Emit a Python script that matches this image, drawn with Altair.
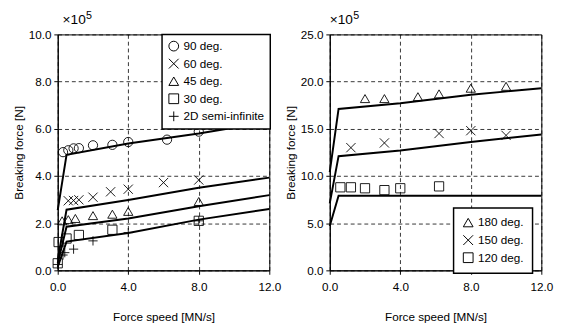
import altair as alt
import pandas as pd

FONT = "Liberation Sans"

# ---------------- left panel data ----------------
L_SERIES = ["90 deg.", "60 deg.", "45 deg.", " 30 deg.", "2D semi-infinite"]
L_SHAPES = ["circle", "M-1,-1L1,1M-1,1L1,-1", "triangle-up", "square", "M-1,0L1,0M0,-1L0,1"]

x90 = [0.3, 0.6, 0.9, 1.2, 2.0, 3.1, 4.0, 6.2, 8.0]
y90 = [5.01, 5.09, 5.17, 5.18, 5.30, 5.32, 5.44, 5.54, 5.88]
x60 = [0.6, 0.9, 1.2, 2.0, 3.0, 4.0, 6.0, 8.0]
y60 = [2.95, 2.96, 2.99, 3.10, 3.33, 3.44, 3.72, 3.83]
x45 = [0.25, 0.6, 1.0, 2.0, 3.1, 4.0, 8.0]
y45 = [2.1, 2.15, 2.2, 2.32, 2.38, 2.5, 2.92]
x30 = [0.0, 0.05, 0.5, 1.2, 3.1, 8.0]
y30 = [0.3, 1.2, 1.35, 1.5, 1.72, 2.1]
x2d = [0.0, 0.3, 0.4, 0.9, 2.0, 4.0, 8.0]
y2d = [0.25, 0.65, 0.75, 0.9, 1.25, 1.6, 2.1]

# model lines (left)
l_line_x = [0.0, 0.5, 4.0, 8.0, 12.0]
l_line90 = [2.55, 4.9, 5.38, 5.8, 6.3]
l_line60 = [0.45, 2.57, 2.98, 3.5, 3.93]
l_line45 = [0.3, 1.85, 2.2, 2.72, 3.19]
l_line30 = [0.15, 1.22, 1.58, 2.15, 2.6]

# ---------------- right panel data ----------------
R_SERIES = ["180 deg.", "150 deg.", " 120 deg."]
R_SHAPES = ["triangle-up", "M-1,-1L1,1M-1,1L1,-1", "square"]

x180 = [2.0, 3.1, 5.0, 6.2, 8.0, 10.0]
y180 = [18.2, 18.2, 18.4, 18.7, 19.3, 19.5]
x150 = [1.2, 3.1, 6.2, 8.0, 10.0]
y150 = [13.0, 13.5, 14.5, 14.8, 14.3]
x120 = [0.6, 1.2, 2.0, 3.1, 4.0, 6.2]
y120 = [8.8, 8.8, 8.7, 8.5, 8.7, 8.9]

r_line_x = [0.0, 0.5, 4.0, 8.0, 12.0]
r_line180 = [10.4, 17.1, 17.7, 18.6, 19.3]
r_line150 = [7.1, 12.1, 12.7, 13.6, 14.4]
r_line120 = [4.7, 7.9, 7.9, 7.9, 7.9]


def pts_frame(series_names, xs, ys):
    rows = []
    for name, xv, yv in zip(series_names, xs, ys):
        for a, b in zip(xv, yv):
            rows.append({"x": a, "y": b, "series": name})
    return pd.DataFrame(rows)


def line_frame(xs, lines):
    rows = []
    for i, ys in enumerate(lines):
        for a, b in zip(xs, ys):
            rows.append({"x": a, "y": b, "line": i})
    return pd.DataFrame(rows)


left_pts = pts_frame(L_SERIES, [x90, x60, x45, x30, x2d], [y90, y60, y45, y30, y2d])
left_lines = line_frame(l_line_x, [l_line90, l_line60, l_line45, l_line30])
right_pts = pts_frame(R_SERIES, [x180, x150, x120], [y180, y150, y120])
right_lines = line_frame(r_line_x, [r_line180, r_line150, r_line120])

W, H = 217, 242


def panel(pts, lines, series, shapes, ymax, ystep, legend_xy, legend_pad, exp_dx, label_expr):
    xenc = alt.X("x:Q", scale=alt.Scale(domain=[0, 12], nice=False),
                 axis=alt.Axis(values=list(range(0, 13, 2)), grid=True, labelFlush=False,
                               labelExpr="datum.value % 4 == 0 ? format(datum.value, '.1f') : ''",
                               title="Force speed [MN/s]"))
    yvals = [v * ystep for v in range(int(ymax / ystep) + 1)]
    yenc = alt.Y("y:Q", scale=alt.Scale(domain=[0, ymax], nice=False),
                 axis=alt.Axis(values=yvals, format=".1f", grid=True, labelFlush=False,
                               title="Breaking force [N]"))
    ln = alt.Chart(lines).mark_line(color="black", strokeWidth=2).encode(
        x=xenc, y=yenc, detail="line:N")
    pt = alt.Chart(pts).mark_point(filled=False, color="black", strokeWidth=0.9,
                                   size=90, opacity=1).encode(
        x="x:Q", y="y:Q",
        shape=alt.Shape("series:N", scale=alt.Scale(domain=series, range=shapes),
                        legend=alt.Legend(title=None, orient="none",
                                          legendX=legend_xy[0], legendY=legend_xy[1],
                                          strokeColor="black", fillColor="white",
                                          padding=legend_pad, rowPadding=4,
                                          labelFontSize=12, labelFont=FONT,
                                          labelExpr=label_expr,
                                          symbolSize=100, symbolStrokeWidth=1,
                                          symbolStrokeColor="black",
                                          symbolFillColor="transparent",
                                          labelColor="black", labelOffset=4)))
    t1 = alt.Chart(pd.DataFrame({"t": ["×10"]})).mark_text(
        align="left", baseline="alphabetic", fontSize=14, font=FONT, color="black").encode(
        text="t:N", x=alt.value(exp_dx), y=alt.value(-11))
    t2 = alt.Chart(pd.DataFrame({"t": ["5"]})).mark_text(
        align="left", baseline="alphabetic", fontSize=11, font=FONT, color="black").encode(
        text="t:N", x=alt.value(exp_dx + 24), y=alt.value(-16))
    return alt.layer(ln, pt, t1, t2).properties(width=W, height=H)


left = panel(left_pts, left_lines, L_SERIES, L_SHAPES, 10, 2, (107, 0), 6, 5, "datum.label")
right = panel(right_pts, right_lines, R_SERIES, R_SHAPES, 25, 5, (127, 178), 9, 0,
              "datum.label + '\u2002'")

chart = alt.hconcat(left, right, spacing=2).resolve_scale(shape="independent").properties(
    padding={"left": 4, "top": -3, "right": 0, "bottom": 0}
).configure_axis(
    labelFont=FONT, titleFont=FONT, labelFontSize=12, titleFontSize=12,
    titleFontWeight="normal", labelColor="black", titleColor="black",
    domainColor="black", domainWidth=1, tickColor="black", tickSize=4,
    gridColor="black", gridDash=[4, 3], gridWidth=0.8, gridOpacity=1,
    labelPadding=3,
).configure_axisX(titlePadding=19, labelPadding=8).configure_axisY(titlePadding=3).configure_view(
    stroke="black", strokeWidth=1
).configure_legend(strokeWidth=1.5)

chart.save("out.html", embed_options={"renderer": "svg", "actions": False})
